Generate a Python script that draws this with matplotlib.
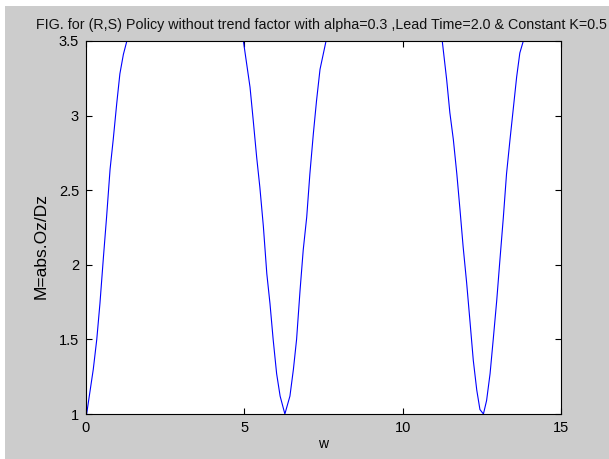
import numpy as np
import matplotlib
matplotlib.use("Agg")
import matplotlib.pyplot as plt
from matplotlib.patches import Rectangle

# Frequency response magnitude, one list per visible arch (curve leaves the top of the axes between arches)
w_arch1 = [0.00, 0.02, 0.23, 0.34, 0.44, 0.55, 0.65, 0.76, 0.86, 0.97, 1.07, 1.18, 1.29]
m_arch1 = [1.00, 1.00, 1.30, 1.50, 1.74, 2.05, 2.32, 2.64, 2.84, 3.08, 3.28, 3.41, 3.50]

w_arch2 = [4.97, 5.18, 5.28, 5.39, 5.49, 5.60, 5.71, 5.81, 5.91, 6.02, 6.13, 6.28,
           6.44, 6.55, 6.65, 6.76, 6.86, 6.97, 7.07, 7.18, 7.28, 7.39, 7.58]
m_arch2 = [3.50, 3.19, 2.97, 2.72, 2.52, 2.26, 1.94, 1.74, 1.50, 1.27, 1.12, 1.00,
           1.12, 1.30, 1.50, 1.83, 2.10, 2.32, 2.61, 2.88, 3.10, 3.31, 3.50]

w_arch3 = [11.25, 11.39, 11.49, 11.60, 11.71, 11.81, 11.91, 12.02, 12.13, 12.23, 12.34, 12.44, 12.55,
           12.65, 12.76, 12.86, 12.97, 13.07, 13.18, 13.28, 13.39, 13.49, 13.60, 13.70, 13.81]
m_arch3 = [3.50, 3.24, 3.02, 2.84, 2.61, 2.37, 2.12, 1.88, 1.61, 1.36, 1.16, 1.03, 1.00,
           1.09, 1.27, 1.50, 1.76, 2.03, 2.32, 2.61, 2.84, 3.04, 3.26, 3.42, 3.50]

x_ticks = [0, 5, 10, 15]
y_ticks = [1, 1.5, 2, 2.5, 3, 3.5]
y_tick_labels = ["1", "1.5", "2", "2.5", "3", "3.5"]

title_text = "FIG. for (R,S) Policy without trend factor with alpha=0.3 ,Lead Time=2.0 & Constant K=0.5"

plt.rcParams["font.family"] = ["Liberation Sans", "DejaVu Sans"]

W, H = 609, 459
fig = plt.figure(figsize=(W / 100, H / 100), dpi=100, facecolor="#cccccc")
# thin white margin along the top and left edges
fig.patches.append(Rectangle((0, 1 - 6 / H), 1, 6 / H, transform=fig.transFigure,
                             facecolor="white", edgecolor="none", zorder=-10))
fig.patches.append(Rectangle((0, 0), 5 / W, 1, transform=fig.transFigure,
                             facecolor="white", edgecolor="none", zorder=-10))

ax = fig.add_axes([86 / W, 1 - 414 / H, (561 - 86) / W, (414 - 41) / H])
ax.set_facecolor("white")

for wa, ma in [(w_arch1, m_arch1), (w_arch2, m_arch2), (w_arch3, m_arch3)]:
    ax.plot(wa, ma, color=(0, 0, 1), linewidth=0.8, antialiased=True)

ax.set_xlim(0, 15)
ax.set_ylim(1, 3.5)
ax.set_xticks(x_ticks)
ax.set_yticks(y_ticks)
ax.set_yticklabels(y_tick_labels)

ax.tick_params(direction="in", length=4, width=0.8, top=True, right=True,
               labelsize=10.5, colors="black", pad=5)
for s in ax.spines.values():
    s.set_linewidth(0.8)
    s.set_color("black")

ax.text(0.4947, 1 + 16 / 373, title_text, transform=ax.transAxes,
        ha="center", va="center", fontsize=10.3, color="#111111")
ax.set_xlabel("w", fontsize=10)
ax.xaxis.set_label_coords(0.5, -23 / 373)
ax.set_ylabel("M=abs.Oz/Dz", fontsize=12.5)
ax.yaxis.set_label_coords(-37 / 475, 0.45)

fig.savefig("out.png", dpi=100, facecolor=fig.get_facecolor())
